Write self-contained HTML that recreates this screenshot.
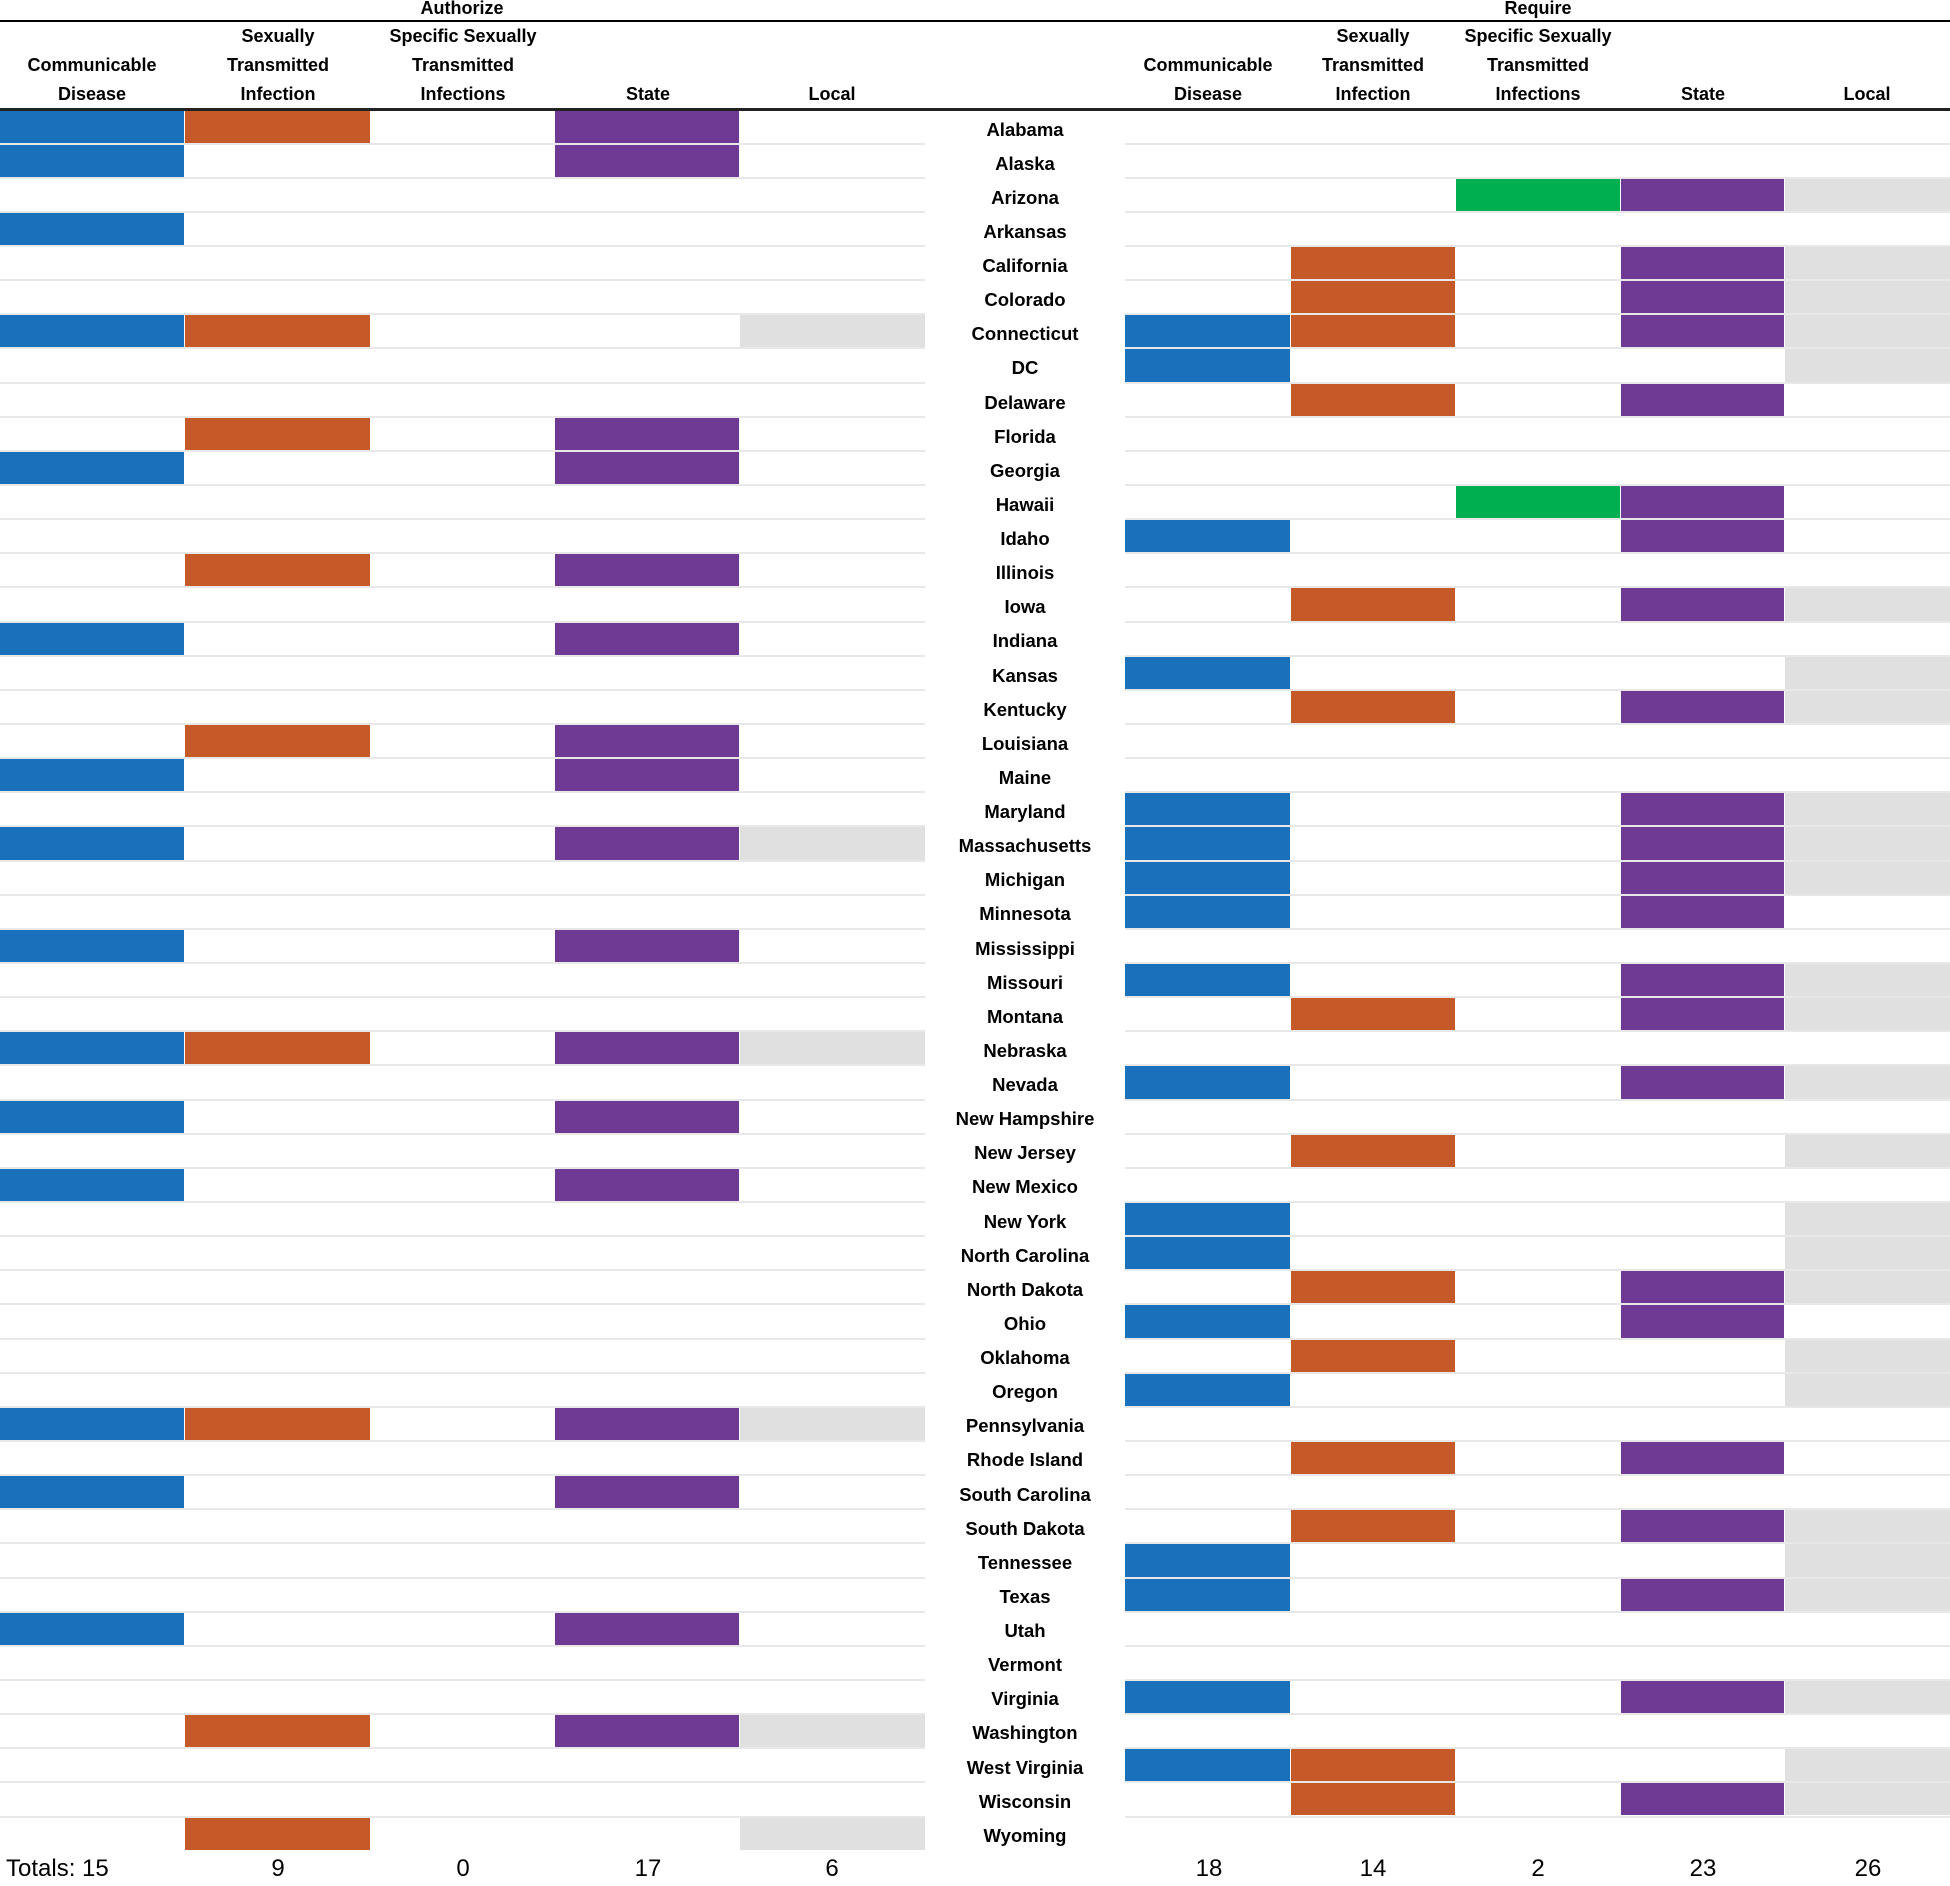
<!DOCTYPE html>
<html><head><meta charset="utf-8"><style>
body{margin:0;width:1950px;height:1880px;background:#fff;position:relative;overflow:hidden;font-family:"Liberation Sans",sans-serif;}
.h{position:absolute;font-weight:bold;font-size:18px;text-align:center;width:180px;line-height:29px;color:#000}
.t{position:absolute;font-size:24px;text-align:center;width:120px;top:1852px;line-height:34px}
#labels{position:absolute;left:925px;width:200px;top:109.5px}
#labels div{height:34.14px;line-height:40px;text-align:center;font-weight:bold;font-size:18.5px}
.r{position:absolute}
</style></head><body>
<div class="h" style="left:372px;top:-6px">Authorize</div>
<div class="h" style="left:1448px;top:-6px">Require</div>
<div style="position:absolute;left:0;top:20px;width:1950px;height:2px;background:#000"></div>
<div style="position:absolute;left:0;top:108px;width:1950px;height:3px;background:#222"></div>

<div class="h" style="left:2px;top:51px">Communicable<br>Disease</div>
<div class="h" style="left:188px;top:22px">Sexually<br>Transmitted<br>Infection</div>
<div class="h" style="left:373px;top:22px">Specific Sexually<br>Transmitted<br>Infections</div>
<div class="h" style="left:558px;top:80px">State</div>
<div class="h" style="left:742px;top:80px">Local</div>
<div class="h" style="left:1118px;top:51px">Communicable<br>Disease</div>
<div class="h" style="left:1283px;top:22px">Sexually<br>Transmitted<br>Infection</div>
<div class="h" style="left:1448px;top:22px">Specific Sexually<br>Transmitted<br>Infections</div>
<div class="h" style="left:1613px;top:80px">State</div>
<div class="h" style="left:1777px;top:80px">Local</div>

<div id="labels">
<div>Alabama</div><div>Alaska</div><div>Arizona</div><div>Arkansas</div><div>California</div><div>Colorado</div><div>Connecticut</div><div>DC</div><div>Delaware</div><div>Florida</div><div>Georgia</div><div>Hawaii</div><div>Idaho</div><div>Illinois</div><div>Iowa</div><div>Indiana</div><div>Kansas</div><div>Kentucky</div><div>Louisiana</div><div>Maine</div><div>Maryland</div><div>Massachusetts</div><div>Michigan</div><div>Minnesota</div><div>Mississippi</div><div>Missouri</div><div>Montana</div><div>Nebraska</div><div>Nevada</div><div>New Hampshire</div><div>New Jersey</div><div>New Mexico</div><div>New York</div><div>North Carolina</div><div>North Dakota</div><div>Ohio</div><div>Oklahoma</div><div>Oregon</div><div>Pennsylvania</div><div>Rhode Island</div><div>South Carolina</div><div>South Dakota</div><div>Tennessee</div><div>Texas</div><div>Utah</div><div>Vermont</div><div>Virginia</div><div>Washington</div><div>West Virginia</div><div>Wisconsin</div><div>Wyoming</div>
</div>

<div class="t" style="left:0;text-align:left;padding-left:6px;width:200px">Totals: 15</div>
<div class="t" style="left:218px">9</div>
<div class="t" style="left:403px">0</div>
<div class="t" style="left:588px">17</div>
<div class="t" style="left:772px">6</div>
<div class="t" style="left:1149px">18</div>
<div class="t" style="left:1313px">14</div>
<div class="t" style="left:1478px">2</div>
<div class="t" style="left:1643px">23</div>
<div class="t" style="left:1808px">26</div>

<script>
var top0=109.5,rh=34.14;
var L=[0,185,371,555,740,925],R=[1125,1291,1456,1621,1785,1950];
var col=["#1a71bb","#c55a28","#00b050","#6f3a94","#e0e0e0"];
function rect(x,y,w,h,c){var d=document.createElement('div');d.className='r';d.style.cssText='left:'+x+'px;top:'+y+'px;width:'+w+'px;height:'+h+'px;background:'+c;document.body.appendChild(d);}
for(var i=1;i<=50;i++){var y=top0+i*rh-1;rect(0,y,925,2,'#e8e8e8');rect(1125,y,825,2,'#e8e8e8');}
var left={0:"BOP",1:"BP",3:"B",6:"BOL",9:"OP",10:"BP",13:"OP",15:"BP",18:"OP",19:"BP",21:"BPL",24:"BP",27:"BOPL",29:"BP",31:"BP",38:"BOPL",40:"BP",44:"BP",47:"OPL",50:"OL"};
var right={2:"GPL",4:"OPL",5:"OPL",6:"BOPL",7:"BL",8:"OP",11:"GP",12:"BP",14:"OPL",16:"BL",17:"OPL",20:"BPL",21:"BPL",22:"BPL",23:"BP",25:"BPL",26:"OPL",28:"BPL",30:"OL",32:"BL",33:"BL",34:"OPL",35:"BP",36:"OL",37:"BL",39:"OP",41:"OPL",42:"BL",43:"BPL",46:"BPL",48:"BOL",49:"OPL"};
var idx={B:0,O:1,G:2,P:3,L:4};
function draw(m,X){for(var k in m){var s=m[k];for(var j=0;j<s.length;j++){var c=idx[s[j]];var y=top0+k*rh+1;rect(X[c],y,X[c+1]-X[c]-(c<4?1:0),rh-2,col[c]);}}}
draw(left,L);draw(right,R);
</script>
</body></html>
